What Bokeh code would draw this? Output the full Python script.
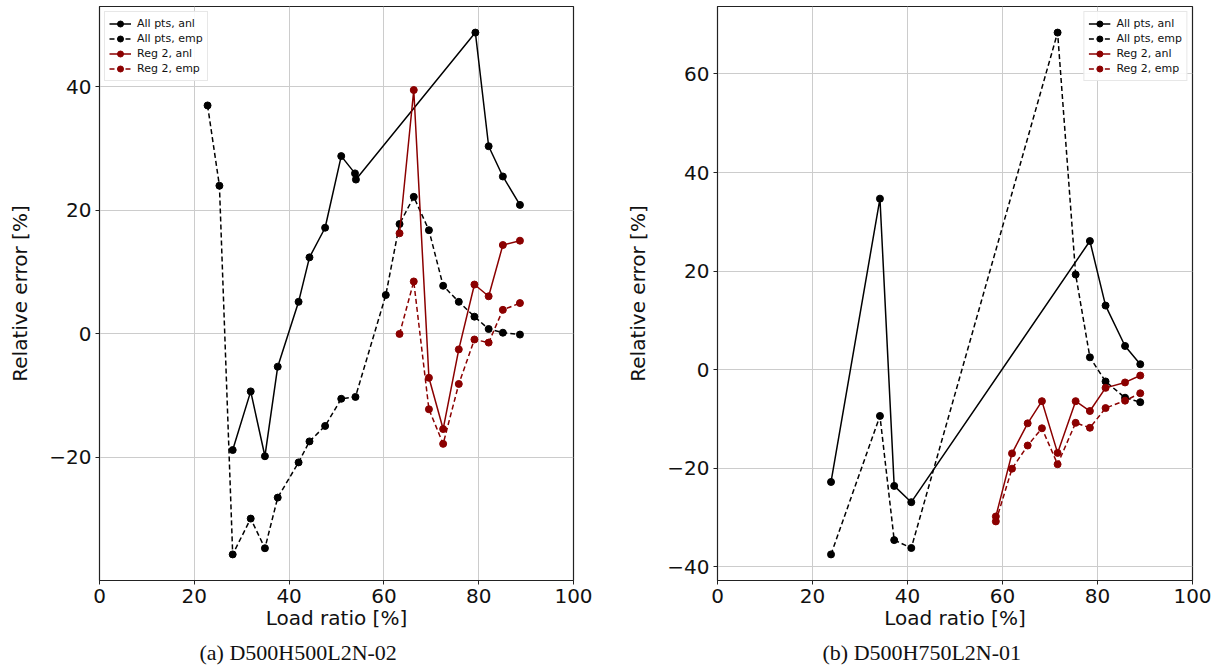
from bokeh.plotting import figure
from bokeh.layouts import row
from bokeh.models import Range1d, Title, FixedTicker
from bokeh.embed import file_html
from bokeh.resources import INLINE

# ---- Panel (a) D500H500L2N-02 ----
a_anl_x = [28.1, 31.9, 34.9, 37.6, 42.0, 44.3, 47.6, 51.0, 53.9, 54.1, 79.3, 82.1, 85.1, 88.7]
a_anl_y = [-18.8, -9.3, -19.8, -5.3, 5.2, 12.4, 17.2, 28.8, 26.0, 25.0, 48.8, 30.4, 25.5, 20.9]
a_emp_x = [22.8, 25.3, 28.1, 31.9, 34.9, 37.6, 42.0, 44.3, 47.6, 51.0, 54.0, 60.4, 63.3,
           66.3, 69.5, 72.5, 75.8, 79.1, 82.1, 85.1, 88.7]
a_emp_y = [37.0, 24.0, -35.7, -29.9, -34.7, -26.5, -20.8, -17.4, -14.9, -10.5, -10.2, 6.3, 17.8,
           22.2, 16.8, 7.8, 5.2, 2.8, 0.8, 0.2, -0.1]
a_reg_x = [63.3, 66.3, 69.5, 72.5, 75.8, 79.1, 82.1, 85.1, 88.7]
a_reg_anl = [16.3, 39.5, -7.1, -15.4, -2.5, 8.0, 6.1, 14.4, 15.1]
a_reg_emp = [0.0, 8.5, -12.2, -17.8, -8.1, -0.9, -1.4, 3.9, 5.0]

# ---- Panel (b) D500H750L2N-01 ----
b_anl_x = [23.9, 34.2, 37.2, 40.8, 78.4, 81.7, 85.8, 89.0]
b_anl_y = [-22.8, 34.7, -23.6, -26.9, 26.1, 13.0, 4.8, 1.1]
b_emp_x = [23.9, 34.2, 37.2, 40.8, 71.6, 75.4, 78.4, 81.7, 85.8, 89.0]
b_emp_y = [-37.5, -9.4, -34.6, -36.2, 68.4, 19.3, 2.5, -2.4, -5.7, -6.6]
b_reg_x = [58.6, 62.0, 65.3, 68.3, 71.6, 75.4, 78.4, 81.7, 85.8, 89.0]
b_reg_anl = [-29.8, -17.0, -10.9, -6.4, -16.9, -6.4, -8.4, -3.7, -2.6, -1.2]
b_reg_emp = [-30.8, -20.1, -15.4, -11.9, -19.2, -10.8, -11.8, -7.8, -6.3, -4.8]

labels = ["All pts, anl", "All pts, emp", "Reg 2, anl", "Reg 2, emp"]
x_ticks = [0, 20, 40, 60, 80, 100]
y_ticks = [-40, -20, 0, 20, 40, 60]
captions = ["(a) D500H500L2N-02", "(b) D500H750L2N-01"]

FONT = "DejaVu Sans"
FIG_H = 670


def panel(width, mb_left, mb_right, series, caption, cap_offset, leg_loc):
    ally = [v for s in series for v in s[1]]
    lo, hi = min(ally), max(ally)
    pad = 0.05 * (hi - lo)
    p = figure(width=width, height=FIG_H, x_range=Range1d(0, 100),
               y_range=Range1d(lo - pad, hi + pad),
               output_backend="svg", toolbar_location=None,
               min_border_left=mb_left, min_border_right=mb_right,
               min_border_top=6, min_border_bottom=90)
    p.outline_line_color = "#222222"
    p.outline_line_width = 1.2
    p.background_fill_color = "white"
    p.border_fill_color = "white"
    p.grid.grid_line_color = "#cccccc"
    p.grid.grid_line_width = 1
    p.xaxis.ticker = FixedTicker(ticks=x_ticks)
    p.yaxis.ticker = FixedTicker(ticks=y_ticks)
    p.yaxis.major_label_overrides = {-20: "\u221220", -40: "\u221240"}
    for ax in (p.xaxis, p.yaxis):
        ax.axis_line_color = "#222222"
        ax.major_tick_line_color = "#222222"
        ax.major_tick_out = 4
        ax.major_tick_in = 0
        ax.minor_tick_line_color = None
        ax.major_label_text_font = FONT
        ax.major_label_text_font_size = "20px"
        ax.major_label_text_color = "#111111"
        ax.axis_label_text_font = FONT
        ax.axis_label_text_font_size = "20px"
        ax.axis_label_text_font_style = "normal"
        ax.axis_label_text_color = "#111111"
    p.xaxis.major_label_standoff = 4
    p.yaxis.major_label_standoff = 4
    p.xaxis.axis_label_standoff = 0
    p.yaxis.axis_label_standoff = 14
    p.xaxis.axis_label = "Load ratio [%]"
    p.yaxis.axis_label = "Relative error [%]"

    for (xs, ys, color, dash), lab in zip(series, labels):
        p.line(xs, ys, line_color=color, line_width=1.5, line_dash=dash, legend_label=lab)
        p.scatter(xs, ys, size=7, fill_color=color, line_color=color, legend_label=lab)

    lg = p.legend[0]
    lg.location = leg_loc
    lg.margin = 5
    lg.padding = 4
    lg.spacing = 0
    lg.glyph_width = 22
    lg.glyph_height = 15
    lg.label_height = 15
    lg.label_standoff = 6
    lg.label_text_font = FONT
    lg.label_text_font_size = "11px"
    lg.label_text_color = "#111111"
    lg.border_line_color = "#d0d0d0"
    lg.background_fill_alpha = 0.9

    p.add_layout(Title(text=caption, align="left", offset=cap_offset,
                       text_font="Liberation Serif", text_font_size="22px",
                       text_font_style="normal", text_color="#111111", standoff=10), "below")
    return p


pa = panel(608, 99, 35,
           [(a_anl_x, a_anl_y, "black", "solid"),
            (a_emp_x, a_emp_y, "black", "5 3"),
            (a_reg_x, a_reg_anl, "#8b0000", "solid"),
            (a_reg_x, a_reg_emp, "#8b0000", "5 3")],
           captions[0], 100, "top_left")

pb = panel(611, 109, 27,
           [(b_anl_x, b_anl_y, "black", "solid"),
            (b_emp_x, b_emp_y, "black", "5 3"),
            (b_reg_x, b_reg_anl, "#8b0000", "solid"),
            (b_reg_x, b_reg_emp, "#8b0000", "5 3")],
           captions[1], 105, "top_right")

layout = row(pa, pb)
open("out.html", "w").write(file_html(layout, INLINE))
